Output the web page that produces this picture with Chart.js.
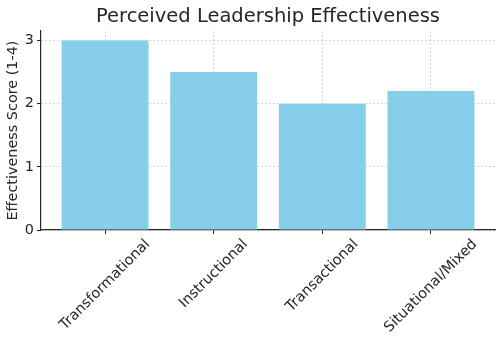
<!DOCTYPE html>
<html>
<head>
<meta charset="utf-8">
<script src="https://cdn.jsdelivr.net/npm/chart.js@4.4.1/dist/chart.umd.min.js"></script>
<style>
  html, body { margin: 0; padding: 0; background: #fff; }
  #wrap { width: 498px; height: 340px; }
</style>
</head>
<body>
<div id="wrap"><canvas id="c" width="498" height="340"></canvas></div>
<script>
// Leadership styles and their mean effectiveness scores (scale 1-4)
const categories = ['Transformational', 'Instructional', 'Transactional', 'Situational/Mixed'];
const scores = [3.0, 2.5, 2.0, 2.2];
const yTicks = [0, 1, 2, 3];

const FONT = "'DejaVu Sans', sans-serif";
const TEXT = '#262626';
const TICK_SIZE = 14.4;

// Category labels: rotated 45°, the rotated box centred under each bar
const rotatedLabels = {
  id: 'rotatedLabels',
  afterDraw(chart) {
    const ctx = chart.ctx;
    const xs = chart.scales.x;
    const top = chart.chartArea.bottom + 7;
    ctx.save();
    ctx.font = TICK_SIZE + 'px ' + FONT;
    ctx.fillStyle = TEXT;
    ctx.textAlign = 'center';
    ctx.textBaseline = 'middle';
    categories.forEach((label, i) => {
      const w = ctx.measureText(label).width;
      const boxH = (w + TICK_SIZE) * Math.SQRT1_2;
      const cx = xs.getPixelForValue(i);
      const cy = top + boxH / 2;
      ctx.save();
      ctx.translate(cx, cy);
      ctx.rotate(-Math.PI / 4);
      ctx.fillText(label, 0, 0);
      ctx.restore();
    });
    ctx.restore();
  }
};

const gridStyle = {
  color: 'rgba(150,150,150,0.5)',
  lineWidth: 0.8,
  drawTicks: true,
  tickLength: 4,
  tickColor: TEXT,
  tickWidth: 1
};

new Chart(document.getElementById('c'), {
  type: 'bar',
  data: {
    datasets: [{
      data: categories.map((c, i) => ({ x: i, y: scores[i] })),
      backgroundColor: '#87CEEB',
      borderWidth: 0,
      barPercentage: 1.0,
      categoryPercentage: 0.8
    }]
  },
  options: {
    responsive: false,
    animation: false,
    devicePixelRatio: 1,
    layout: { padding: { top: 0, right: 3, left: 5, bottom: 0 } },
    plugins: {
      legend: { display: false },
      tooltip: { enabled: false },
      title: {
        display: true,
        fullSize: false,
        text: 'Perceived Leadership Effectiveness',
        color: TEXT,
        font: { family: FONT, size: 19.5, weight: 'normal', lineHeight: 1.2 },
        padding: { top: 5, bottom: 2.6 }
      }
    },
    scales: {
      x: {
        type: 'linear',
        min: -0.59,
        max: 3.59,
        offset: false,
        z: 1,
        afterBuildTicks(scale) {
          scale.ticks = categories.map((c, i) => ({ value: i }));
        },
        afterFit(scale) { scale.height = 110; },
        ticks: { display: false },
        grid: Object.assign({ offset: false }, gridStyle),
        border: { display: true, color: TEXT, width: 1.2, dash: [2, 2] }
      },
      y: {
        min: 0,
        max: 3.15,
        z: 1,
        afterBuildTicks(scale) {
          scale.ticks = yTicks.map(v => ({ value: v }));
        },
        afterFit(scale) { scale.width = 36; },
        ticks: {
          color: TEXT,
          font: { family: FONT, size: TICK_SIZE },
          padding: 3
        },
        title: {
          display: true,
          text: 'Effectiveness Score (1-4)',
          color: TEXT,
          font: { family: FONT, size: TICK_SIZE },
          padding: { top: 0, bottom: 0 }
        },
        grid: gridStyle,
        border: { display: true, color: TEXT, width: 1.2, dash: [2, 2] }
      }
    }
  },
  plugins: [rotatedLabels]
});
</script>
</body>
</html>
